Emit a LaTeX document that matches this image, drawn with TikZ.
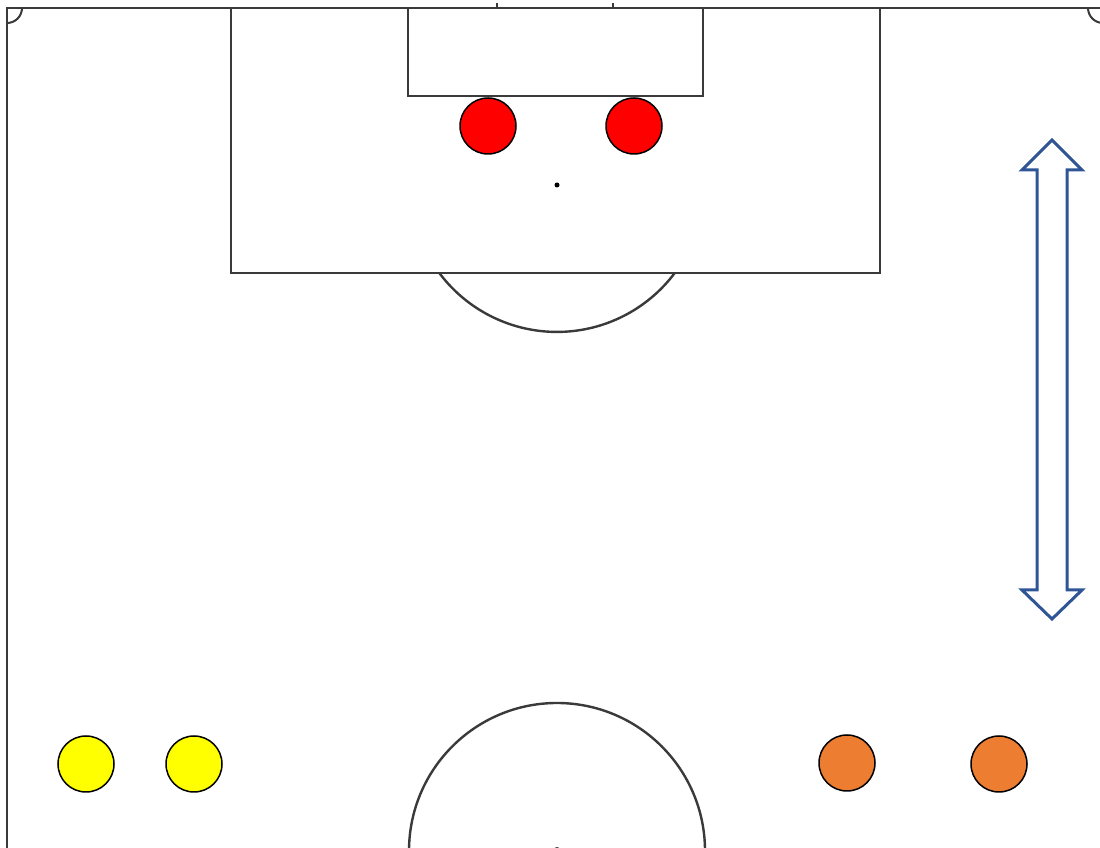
\documentclass[tikz,border=0pt]{standalone}
\definecolor{linegray}{HTML}{3A3A3A}
\definecolor{pred}{HTML}{FF0000}
\definecolor{pyellow}{HTML}{FFFF00}
\definecolor{porange}{HTML}{ED7D31}
\definecolor{arrowblue}{HTML}{2F5597}
\begin{document}
\begin{tikzpicture}[x=1pt,y=1pt,
  fieldline/.style={draw=linegray,line width=2.4pt,line cap=butt,line join=miter},
  player/.style={circle,draw=black,line width=1.5pt,minimum size=56pt,inner sep=0pt},
  bigarrow/.style={draw=arrowblue,line width=3pt,fill=white,line join=miter}]
\useasboundingbox (0,0) rectangle (1100,848);
\fill[white] (0,0) rectangle (1100,848);
\clip (0,0) rectangle (1100,848);
% touch lines
\draw[fieldline] (7,0) -- (7,840) -- (1100,840);
% corner arcs
\draw[fieldline,line width=2pt] (22,840) arc[start angle=0,end angle=-90,radius=15];
\draw[fieldline,line width=2pt] (1088,840) arc[start angle=180,end angle=270,radius=15];
% goal ticks
\draw[fieldline,line width=2pt] (497,840) -- (497,845);
\draw[fieldline,line width=2pt] (613,840) -- (613,845);
% penalty area
\draw[fieldline] (231,840) -- (231,575) -- (880,575) -- (880,840);
% goal area
\draw[fieldline] (408,840) -- (408,752) -- (703,752) -- (703,840);
% penalty spot
\fill[black] (557,663) circle[radius=2.5];
% penalty arc
\draw[fieldline] (439.3,575) arc[start angle=-143.2,end angle=-36.8,radius=147];
% centre circle
\draw[fieldline] (557,-3) circle[radius=148];
\fill[linegray] (557,-3) circle[radius=4];
% players
\node[player,fill=pred] (r1) at (488,722) {};
\node[player,fill=pred] (r2) at (634,722) {};
\node[player,fill=pyellow] (y1) at (86,84) {};
\node[player,fill=pyellow] (y2) at (194,84) {};
\node[player,fill=porange] (o1) at (847,85) {};
\node[player,fill=porange] (o2) at (999,84) {};
% double arrow
\draw[bigarrow] (1052,708) -- (1022,678) -- (1037,678) -- (1037,258) -- (1022,258)
  -- (1052,229) -- (1082,258) -- (1067,258) -- (1067,678) -- (1082,678) -- cycle;
\end{tikzpicture}
\end{document}
